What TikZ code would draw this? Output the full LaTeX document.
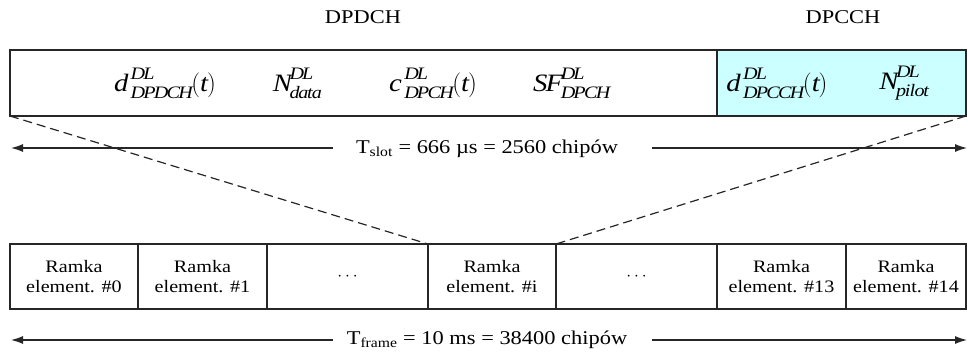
\documentclass[tikz,border=0pt]{standalone}
\usepackage{fontspec}
\setmainfont{Liberation Serif}[FakeStretch=1.15]
\usetikzlibrary{arrows.meta}
\definecolor{dpcchcyan}{RGB}{204,255,255}
\newcommand{\mi}[1]{\mathit{#1}}
\newcommand{\sig}[3]{{#1\vphantom{\big|}}^{\mi{#2}}_{\mi{#3}}}
\begin{document}
\begin{tikzpicture}[x=1pt,y=-1pt,
  boxline/.style={draw=black!85,line width=1.4pt},
  cell/.style={font=\fontsize{17.5}{19.5}\selectfont,align=center},
  txt/.style={font=\fontsize{19.5}{21}\selectfont},
  mathlbl/.style={font=\fontsize{25}{27}\selectfont},
  dim/.style={draw=black!85,line width=1.2pt,-{Latex[length=12pt,width=8pt]}},
  dashline/.style={draw=black!85,line width=1.2pt,dash pattern=on 9pt off 5pt}]
\useasboundingbox (0,0) rectangle (968,358);
% top slot
\fill[dpcchcyan] (717,50) rectangle (966,116);
\draw[boxline] (10,50) rectangle (966,116);
\draw[boxline] (717,50) -- (717,116);
\coordinate (tl) at (10,116);
\coordinate (tr) at (966,116);
\node[txt] (dpdch) at (363,17) {DPDCH};
\node[txt] (dpcch) at (843,17) {DPCCH};
\node[mathlbl] (m1) at (165,83) {$\sig{\mi{d}\,}{DL}{DPDCH}\bigl(\mi{t}\bigr)$};
\node[mathlbl] (m2) at (297,83) {$\sig{\mi{N}}{DL}{data}$};
\node[mathlbl] (m3) at (433,83) {$\sig{\mi{c}\,}{DL}{DPCH}\bigl(\mi{t}\bigr)$};
\node[mathlbl] (m4) at (571,83) {$\sig{\mi{SF}}{DL}{DPCH}$};
\node[mathlbl] (m5) at (777,83) {$\sig{\mi{d}\,}{DL}{DPCCH}\bigl(\mi{t}\bigr)$};
\node[mathlbl] (m6) at (904,83) {$\sig{\mi{N}}{DL}{pilot}$};
% Tslot
\node[txt] (tslot) at (487,149) {T\textsubscript{slot} = 666 µs = 2560 chipów};
\coordinate (sl) at (11,148);
\coordinate (sr) at (967,148);
\coordinate (sa) at (333,148);
\coordinate (sb) at (652,148);
\draw[dim] (sa) -- (sl);
\draw[dim] (sb) -- (sr);
% bottom frames
\foreach \a/\b/\n/\t in {10/138/f0/{Ramka\\element. \#0},138/267/f1/{Ramka\\element. \#1},267/428/f2/{$\cdots$},428/556/fi/{Ramka\\element. \#i},556/717/f3/{$\cdots$},717/846/f13/{Ramka\\element. \#13},846/966/f14/{Ramka\\element. \#14}}{
  \draw[boxline] (\a,244) rectangle (\b,309);
  \node[cell] (\n) at ({(\a+\b)/2},276.5) {\t};
}
\coordinate (bl) at (428,244);
\coordinate (br) at (556,244);
\draw[dashline] (tl) -- (bl);
\draw[dashline] (tr) -- (br);
% Tframe
\node[txt] (tframe) at (487,340) {T\textsubscript{frame} = 10 ms = 38400 chipów};
\coordinate (fl) at (11,340);
\coordinate (fr) at (967,340);
\coordinate (fa) at (333,340);
\coordinate (fb) at (652,340);
\draw[dim] (fa) -- (fl);
\draw[dim] (fb) -- (fr);
\end{tikzpicture}
\end{document}
